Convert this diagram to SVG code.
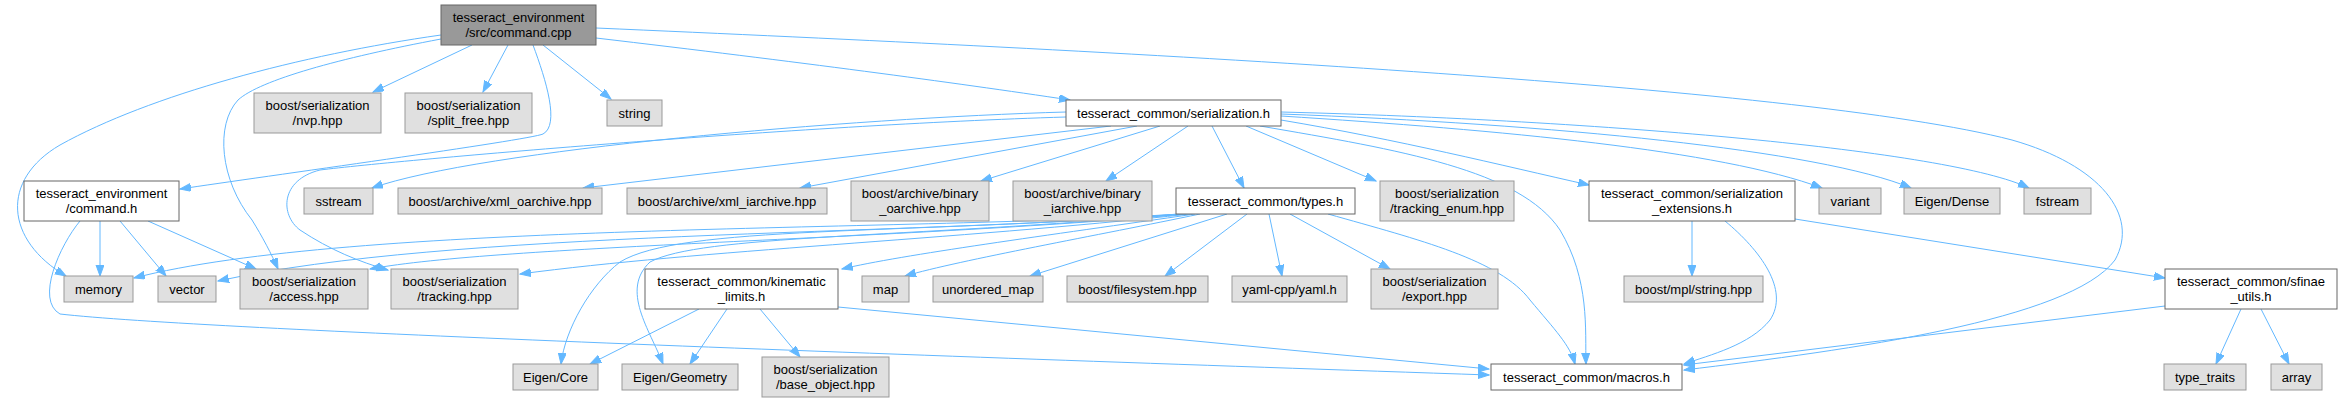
<svg xmlns="http://www.w3.org/2000/svg" width="2342" height="403" viewBox="0 0 2342 403">
<style>
.n rect{fill:#e0e0e0;stroke:#999999;stroke-width:1}
.w rect{fill:#ffffff;stroke:#666666;stroke-width:1}
.r rect{fill:#999999;stroke:#666666;stroke-width:1}
text{font-family:"Liberation Sans",Arial,Helvetica,sans-serif;font-size:13px;fill:#000;text-anchor:middle}
#edges path{fill:none;stroke:#63b8ff;stroke-width:1;marker-end:url(#ah)}
</style>
<defs>
<marker id="ah" markerUnits="userSpaceOnUse" markerWidth="12" markerHeight="9" refX="11" refY="4" orient="auto">
<path d="M0,0 L11,4 L0,8 z" fill="#63b8ff" stroke="#63b8ff" stroke-width="1"/>
</marker>
</defs>
<rect width="2342" height="403" fill="#ffffff"/>
<g id="edges">
<!-- root -->
<path d="M533,45 C546,80 560,125 543,134 C530,140 260,177 180,189"/>
<path d="M472,45 L373,92"/>
<path d="M508,45 L483,92"/>
<path d="M543,45 L611,99"/>
<path d="M596,38 C800,62 950,82 1070,100"/>
<path d="M596,28 C1100,50 1800,85 2012,140 C2100,165 2140,215 2115,260 C2070,320 1850,350 1684,370"/>
<path d="M441,35 C300,55 150,95 60,145 C0,180 5,240 66,276"/>
<path d="M441,39 C340,58 260,80 238,100 C215,125 220,180 252,220 C262,236 272,255 278,269"/>
<!-- serialization.h -->
<path d="M1066,112 C850,118 480,150 372,188"/>
<path d="M1066,117 C800,125 400,160 320,170 C280,180 280,215 300,230 C330,250 360,262 388,270"/>
<path d="M1111,126 L583,188"/>
<path d="M1137,126 L800,188"/>
<path d="M1160,126 L981,181"/>
<path d="M1188,126 L1106,181"/>
<path d="M1212,126 L1244,188"/>
<path d="M1246,126 L1376,181"/>
<path d="M1281,120 C1400,140 1500,165 1589,185"/>
<path d="M1260,126 C1400,150 1520,170 1560,230 C1590,280 1585,330 1586,364"/>
<path d="M1281,116 C1500,130 1720,150 1822,188"/>
<path d="M1281,114 C1550,124 1820,150 1911,188"/>
<path d="M1281,112 C1600,120 1950,150 2029,188"/>
<!-- command.h -->
<path d="M100,221 L100,276"/>
<path d="M120,221 L166,276"/>
<path d="M148,221 L256,269"/>
<path d="M80,221 C60,245 35,300 60,314 C200,330 900,355 1489,375"/>
<!-- types.h -->
<path d="M1180,214 C900,232 350,222 134,278"/>
<path d="M1182,214 C900,236 450,230 218,281"/>
<path d="M1186,214 C900,240 500,245 370,269"/>
<path d="M1190,214 C950,240 700,250 520,274"/>
<path d="M1180,214 C900,235 680,225 620,262 C590,285 565,330 561,364"/>
<path d="M1183,214 C900,238 700,235 650,262 C620,290 650,330 663,364"/>
<path d="M1195,214 C1050,235 900,255 842,269"/>
<path d="M1200,214 C1100,235 960,260 905,276"/>
<path d="M1227,214 L1030,276"/>
<path d="M1247,214 L1165,276"/>
<path d="M1269,214 L1282,276"/>
<path d="M1290,214 L1390,269"/>
<path d="M1328,214 C1420,240 1500,260 1530,300 C1555,330 1570,345 1575,364"/>
<!-- kinematic_limits -->
<path d="M699,309 L590,364"/>
<path d="M727,309 L690,364"/>
<path d="M760,309 L800,357"/>
<path d="M838,307 L1489,369"/>
<!-- serialization_extensions -->
<path d="M1692,221 L1692,276"/>
<path d="M1725,221 C1760,250 1790,290 1770,320 C1750,345 1710,355 1684,364"/>
<path d="M1795,219 L2165,278"/>
<!-- sfinae_utils -->
<path d="M2165,306 L1684,365"/>
<path d="M2241,309 L2216,364"/>
<path d="M2261,309 L2289,364"/>
</g>
<g id="n_root" class="r"><rect x="441" y="5" width="155" height="40"/><text x="518.5" y="21.5">tesseract_environment</text><text x="518.5" y="36.5">/src/command.cpp</text></g>
<g id="n_nvp" class="n"><rect x="254" y="93" width="127" height="40"/><text x="317.5" y="109.5">boost/serialization</text><text x="317.5" y="124.5">/nvp.hpp</text></g>
<g id="n_split_free" class="n"><rect x="405" y="93" width="127" height="40"/><text x="468.5" y="109.5">boost/serialization</text><text x="468.5" y="124.5">/split_free.hpp</text></g>
<g id="n_string" class="n"><rect x="607" y="100" width="55" height="26"/><text x="634.5" y="117.5">string</text></g>
<g id="n_serialization" class="w"><rect x="1066" y="100" width="215" height="26"/><text x="1173.5" y="117.5">tesseract_common/serialization.h</text></g>
<g id="n_command_h" class="w"><rect x="24" y="181" width="155" height="40"/><text x="101.5" y="197.5">tesseract_environment</text><text x="101.5" y="212.5">/command.h</text></g>
<g id="n_sstream" class="n"><rect x="304" y="188" width="69" height="26"/><text x="338.5" y="205.5">sstream</text></g>
<g id="n_xml_oarchive" class="n"><rect x="398" y="188" width="204" height="26"/><text x="500" y="205.5">boost/archive/xml_oarchive.hpp</text></g>
<g id="n_xml_iarchive" class="n"><rect x="627" y="188" width="200" height="26"/><text x="727" y="205.5">boost/archive/xml_iarchive.hpp</text></g>
<g id="n_binary_oarchive" class="n"><rect x="851" y="181" width="138" height="40"/><text x="920" y="197.5">boost/archive/binary</text><text x="920" y="212.5">_oarchive.hpp</text></g>
<g id="n_binary_iarchive" class="n"><rect x="1013" y="181" width="139" height="40"/><text x="1082.5" y="197.5">boost/archive/binary</text><text x="1082.5" y="212.5">_iarchive.hpp</text></g>
<g id="n_types" class="w"><rect x="1176" y="188" width="179" height="26"/><text x="1265.5" y="205.5">tesseract_common/types.h</text></g>
<g id="n_tracking_enum" class="n"><rect x="1380" y="181" width="134" height="40"/><text x="1447" y="197.5">boost/serialization</text><text x="1447" y="212.5">/tracking_enum.hpp</text></g>
<g id="n_ser_ext" class="w"><rect x="1589" y="181" width="206" height="40"/><text x="1692" y="197.5">tesseract_common/serialization</text><text x="1692" y="212.5">_extensions.h</text></g>
<g id="n_variant" class="n"><rect x="1819" y="188" width="62" height="26"/><text x="1850" y="205.5">variant</text></g>
<g id="n_eigen_dense" class="n"><rect x="1904" y="188" width="96" height="26"/><text x="1952" y="205.5">Eigen/Dense</text></g>
<g id="n_fstream" class="n"><rect x="2024" y="188" width="67" height="26"/><text x="2057.5" y="205.5">fstream</text></g>
<g id="n_memory" class="n"><rect x="64" y="276" width="69" height="26"/><text x="98.5" y="293.5">memory</text></g>
<g id="n_vector" class="n"><rect x="158" y="276" width="58" height="26"/><text x="187" y="293.5">vector</text></g>
<g id="n_access" class="n"><rect x="240" y="269" width="128" height="40"/><text x="304" y="285.5">boost/serialization</text><text x="304" y="300.5">/access.hpp</text></g>
<g id="n_tracking" class="n"><rect x="391" y="269" width="127" height="40"/><text x="454.5" y="285.5">boost/serialization</text><text x="454.5" y="300.5">/tracking.hpp</text></g>
<g id="n_kinematic" class="w"><rect x="645" y="269" width="193" height="40"/><text x="741.5" y="285.5">tesseract_common/kinematic</text><text x="741.5" y="300.5">_limits.h</text></g>
<g id="n_map" class="n"><rect x="862" y="276" width="47" height="26"/><text x="885.5" y="293.5">map</text></g>
<g id="n_unordered_map" class="n"><rect x="933" y="276" width="110" height="26"/><text x="988" y="293.5">unordered_map</text></g>
<g id="n_filesystem" class="n"><rect x="1067" y="276" width="141" height="26"/><text x="1137.5" y="293.5">boost/filesystem.hpp</text></g>
<g id="n_yaml" class="n"><rect x="1232" y="276" width="115" height="26"/><text x="1289.5" y="293.5">yaml-cpp/yaml.h</text></g>
<g id="n_export" class="n"><rect x="1371" y="269" width="127" height="40"/><text x="1434.5" y="285.5">boost/serialization</text><text x="1434.5" y="300.5">/export.hpp</text></g>
<g id="n_mpl_string" class="n"><rect x="1624" y="276" width="139" height="26"/><text x="1693.5" y="293.5">boost/mpl/string.hpp</text></g>
<g id="n_sfinae" class="w"><rect x="2165" y="269" width="172" height="40"/><text x="2251" y="285.5">tesseract_common/sfinae</text><text x="2251" y="300.5">_utils.h</text></g>
<g id="n_eigen_core" class="n"><rect x="513" y="364" width="85" height="26"/><text x="555.5" y="381.5">Eigen/Core</text></g>
<g id="n_eigen_geometry" class="n"><rect x="622" y="364" width="116" height="26"/><text x="680" y="381.5">Eigen/Geometry</text></g>
<g id="n_base_object" class="n"><rect x="762" y="357" width="127" height="40"/><text x="825.5" y="373.5">boost/serialization</text><text x="825.5" y="388.5">/base_object.hpp</text></g>
<g id="n_macros" class="w"><rect x="1491" y="364" width="191" height="26"/><text x="1586.5" y="381.5">tesseract_common/macros.h</text></g>
<g id="n_type_traits" class="n"><rect x="2164" y="364" width="82" height="26"/><text x="2205" y="381.5">type_traits</text></g>
<g id="n_array" class="n"><rect x="2271" y="364" width="51" height="26"/><text x="2296.5" y="381.5">array</text></g>
</svg>
